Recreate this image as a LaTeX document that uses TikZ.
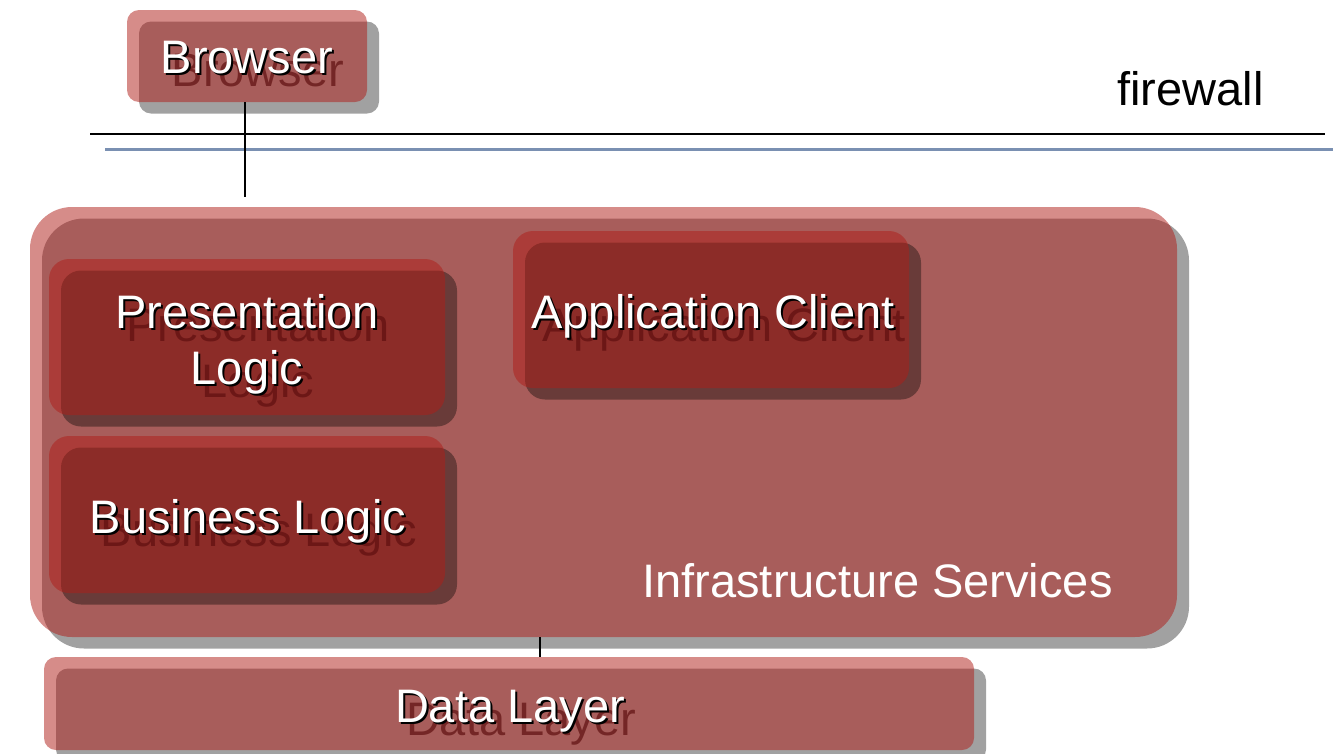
\documentclass[tikz,border=0pt]{standalone}
\usepackage{fontspec}
\setmainfont{Liberation Sans}
\usetikzlibrary{shadows}

\definecolor{tierfill}{RGB}{175,29,24}
\definecolor{fwblue}{RGB}{122,144,178}
\definecolor{glowred}{RGB}{95,15,15}

\tikzset{
  tier/.style={rectangle, rounded corners=#1, draw=none, inner sep=0pt,
    fill=tierfill, fill opacity=0.51,
    drop shadow={shadow xshift=12pt, shadow yshift=-11.5pt,
      fill=black, opacity=0.37, fill opacity=0.37}},
  tier/.default=20pt,
  lbltext/.style={inner sep=0pt, align=center, anchor=base,
    font=\fontsize{47}{56}\selectfont},
  lblwhite/.style={lbltext, text=white},
  lblrim/.style={lbltext, text=black, xshift=2pt, yshift=-2pt},
  lblecho/.style={lbltext, text=glowred, text opacity=0.7, xshift=11pt, yshift=-13pt},
  wire/.style={line width=1.6pt, black},
}

% white label with a thin dark rim and a soft echo beneath it
% (multi-line labels are placed by the baseline of their last line)
\newcommand\tierlabel[3]{%
  \node[lblecho] at (#2) {#3};
  \node[lblrim] at (#2) {#3};
  \node[lblwhite] (#1) at (#2) {#3};
}

\begin{document}
\begin{tikzpicture}[x=1pt, y=-1pt]
\useasboundingbox (0,0) rectangle (1333,753);

% firewall
\coordinate (fwa) at (90,134);
\coordinate (fwb) at (1325,134);
\coordinate (fwc) at (105,149);
\coordinate (fwd) at (1333,149);
\draw[line width=2pt] (fwa) -- (fwb);
\draw[line width=3pt, fwblue] (fwc) -- (fwd);
\node[lbltext, text=black] (fwtext) at (1190.5,105) {firewall};

% browser
\node[tier=12pt, minimum width=240pt, minimum height=92pt] (browser) at (247,56) {};
\tierlabel{browsertext}{247,73}{Browser}
\coordinate (bdrop) at (245,197);
\draw[wire] (browser.south -| bdrop) -- (bdrop);

% application server
\node[tier=42pt, minimum width=1147pt, minimum height=430pt] (infra) at (603.5,422) {};
\node[lbltext, text=white] (infratext) at (877.5,597) {Infrastructure Services};

\node[tier=20pt, minimum width=396pt, minimum height=156pt] (pres) at (247,337) {};
\tierlabel{prestext}{247,384}{Presentation\\Logic}

\node[tier=20pt, minimum width=396pt, minimum height=157pt] (biz) at (247,514.5) {};
\tierlabel{biztext}{248,533}{Business Logic}

\node[tier=20pt, minimum width=396pt, minimum height=157pt] (app) at (711,309.5) {};
\tierlabel{apptext}{713,328}{Application Client}

% data layer
\node[tier=12pt, minimum width=930pt, minimum height=93pt] (data) at (509,703.5) {};
\coordinate (dlink) at (540,0);
\draw[wire] (infra.south -| dlink) -- (data.north -| dlink);
\tierlabel{datatext}{510,722}{Data Layer}
\end{tikzpicture}
\end{document}
